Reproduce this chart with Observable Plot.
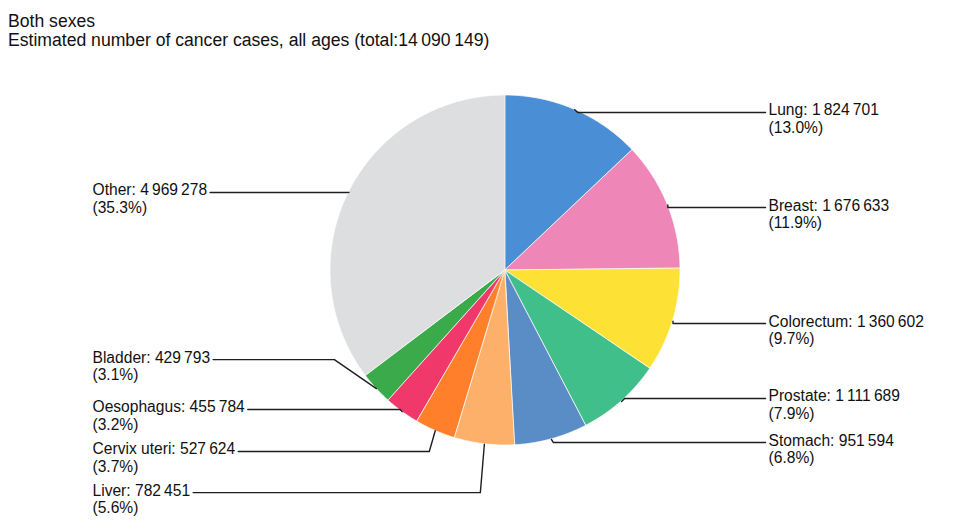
<!DOCTYPE html>
<html><head><meta charset="utf-8">
<script src="https://cdn.jsdelivr.net/npm/d3@7"></script>
<script src="https://cdn.jsdelivr.net/npm/@observablehq/plot@0.6"></script>
<style>
body{margin:0;background:#fff;font-family:"Liberation Sans",Arial,sans-serif;}
#head{box-sizing:border-box;height:60px;padding:12px 0 0 8px;font-size:17.6px;line-height:19px;color:#111;}
#chart svg{display:block;}
</style></head><body>
<div id="head"><div>Both sexes</div><div id="sub"></div></div>
<div id="chart"></div>
<script>
// ---- data ----
const sites = ["Lung","Breast","Colorectum","Prostate","Stomach","Liver","Cervix uteri","Oesophagus","Bladder","Other"];
const cases = [1824701,1676633,1360602,1111689,951594,782451,527624,455784,429793,4969278];
const total = 14090149;

// ---- styles / layout ----
const colors = ["#4a8fd6","#ee86b8","#fee135","#40bf8a","#5a8dc5","#fdb069","#ff7f2a","#f0386b","#3baa4a","#dddedf"];
const labelSide = ["right","right","right","right","right","left","left","left","left","left"];
// leader line heights and knee offsets, in units of the pie radius
const leaderY = [0.903,0.36,-0.303,-0.731,-0.983,-1.269,-1.034,-0.794,-0.509,0.446];
const kneeDx  = [0.017,0,0,0.017,0.011,-0.023,-0.034,-0.011,-0.24,-0.011];
const rightTextX = 1.503, rightEndX = 1.486, leftTextX = -2.36;
const R = 175, fontSize = 15.6, lineGap = 17.5;

const fmt = d3.formatLocale({thousands: "\u2009", grouping: [3], decimal: "."}).format(",d");
document.getElementById("sub").textContent =
  "Estimated number of cancer cases, all ages (total:" + fmt(total) + ")";

const arcs = d3.pie().sort(null).value(d => d)(cases);

// wedge outline points
const wedge = [];
arcs.forEach((a, i) => {
  const n = Math.max(2, Math.ceil((a.endAngle - a.startAngle) / 0.01));
  for (let k = 0; k <= n; k++) {
    const t = a.startAngle + (a.endAngle - a.startAngle) * k / n;
    wedge.push({site: sites[i], x: Math.sin(t), y: Math.cos(t)});
  }
});

const ctx = document.createElement("canvas").getContext("2d");
ctx.font = `${fontSize}px "Liberation Sans", Arial, sans-serif`;

const labels = arcs.map((a, i) => {
  const line1 = `${sites[i]}: ${fmt(cases[i])}`;
  const line2 = `(${(cases[i] / total * 100).toFixed(1)}%)`;
  const right = labelSide[i] === "right";
  const w = ctx.measureText(line1).width;
  return {site: sites[i], line1, line2, right,
    tx: right ? rightTextX : leftTextX,
    ex: right ? rightEndX : leftTextX + (w + 3) / R,
    ly: leaderY[i], mid: (a.startAngle + a.endAngle) / 2, kd: kneeDx[i]};
});

const leaders = labels.flatMap(d => {
  const mx = Math.sin(d.mid), my = Math.cos(d.mid);
  return [
    {site: d.site, x: mx, y: my},
    {site: d.site, x: mx + d.kd, y: d.ly},
    {site: d.site, x: d.ex, y: d.ly}
  ];
});

const chart = Plot.plot({
  width: 966, height: 464,
  marginLeft: 330, marginRight: 286, marginTop: 35, marginBottom: 79,
  x: {domain: [-1, 1], axis: null},
  y: {domain: [-1, 1], axis: null},
  color: {domain: sites, range: colors},
  style: {fontFamily: '"Liberation Sans", Arial, sans-serif', background: "white"},
  marks: [
    Plot.area(wedge, {x1: 0, y1: 0, x2: "x", y2: "y", z: "site", fill: "site",
      stroke: "white", strokeWidth: 0.7, curve: "linear"}),
    Plot.line(leaders, {x: "x", y: "y", z: "site", stroke: "#1e1e1e", strokeWidth: 1.4, curve: "linear"}),
    Plot.text(labels, {x: "tx", y: "ly", text: d => d.line1 + "\n" + d.line2,
      textAnchor: "start", lineAnchor: "bottom", lineHeight: lineGap / fontSize,
      dy: 3 + lineGap, fontSize, fill: "#111"})
  ]
});
document.getElementById("chart").appendChild(chart);
</script>
</body></html>
